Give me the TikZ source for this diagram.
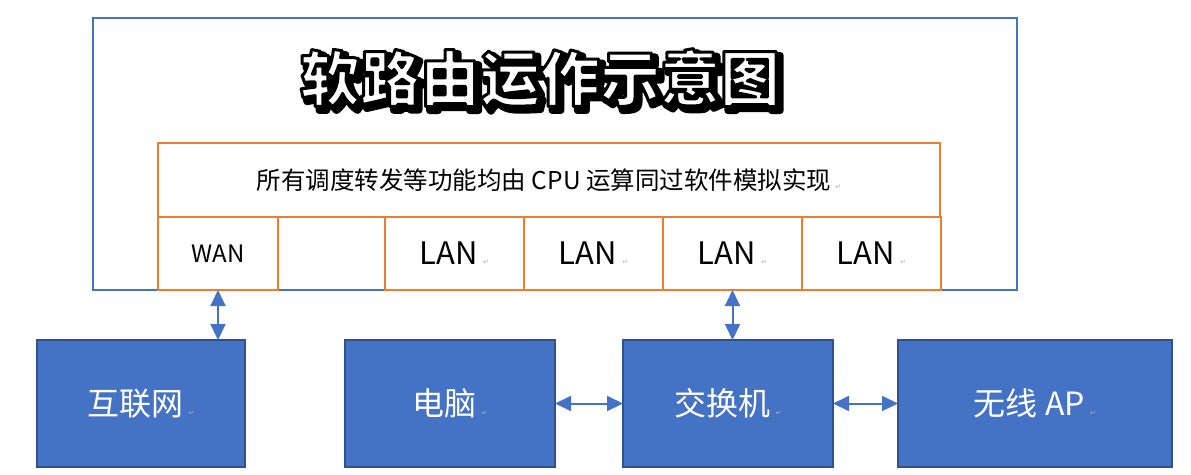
\documentclass[tikz,border=0pt]{standalone}
\usepackage{fontspec}
\setmainfont{Noto Sans CJK SC}
\newfontfamily\markfont{DejaVu Sans}
\usetikzlibrary{positioning,calc,arrows.meta}

\definecolor{frameblue}{HTML}{4472C4}
\definecolor{portorange}{HTML}{ED7D31}
\definecolor{devblue}{HTML}{4472C4}
\definecolor{devedge}{HTML}{2F528F}
\newcommand{\retmark}{\,{\markfont\fontsize{7}{7}\selectfont\color{gray!60}↵}}
% outlined text: fill and stroke the glyphs
\newcommand{\outlined}[2]{\special{pdf:literal direct 2 Tr #1 w 1 j 0 G}#2\special{pdf:literal direct 0 Tr}}

\begin{document}
\begin{tikzpicture}[x=1pt,y=-1pt,
    frame/.style={draw=frameblue, line width=2.5pt, inner sep=0pt, outer sep=0pt},
    cell/.style={draw=portorange, line width=2.5pt, fill=white, inner sep=0pt, outer sep=0pt, minimum height=73pt},
    lan/.style={cell, minimum width=139pt, font=\fontsize{31}{31}\selectfont},
    dev/.style={draw=devedge, line width=2pt, fill=devblue, text=white, inner sep=0pt, outer sep=0pt,
        minimum height=127pt, font=\fontsize{32}{32}\selectfont},
    link/.style={{Triangle[length=16pt,width=15pt]}-{Triangle[length=16pt,width=15pt]}, draw=devblue, line width=2pt},
    titletext/.style={font=\bfseries\fontsize{60}{60}\selectfont}
]
    \useasboundingbox (0,0) rectangle (1191,474);

    % router frame
    \node[frame, minimum width=924pt, minimum height=272pt, anchor=north west] (router) at (93,18) {};

    % title with shadow and outline
    \coordinate (tpos) at (540,78);
    \node[titletext, text=black] (shadow) at ($(tpos)+(4,4)$) {\outlined{7}{软路由运作示意图}};
    \node[titletext, text=white] (title) at (tpos) {\outlined{3}{软路由运作示意图}};

    \node[cell, minimum width=782pt, minimum height=74pt, anchor=north west, font=\fontsize{24.5}{24.5}\selectfont] (desc) at (158,143)
        {所有调度转发等功能均由 CPU 运算同过软件模拟实现\retmark};

    % ports
    \node[cell, minimum width=120pt, anchor=north west, font=\fontsize{24}{24}\selectfont] (wan) at (desc.south west) {WAN};
    \node[lan, anchor=north west] (lana) at (385,217) {LAN\retmark};
    \node[lan, right=0pt of lana] (lanb) {LAN\retmark};
    \node[lan, right=0pt of lanb] (lanc) {LAN\retmark};
    \node[lan, right=0pt of lanc] (land) {LAN\retmark};

    % devices
    \node[dev, minimum width=208pt, anchor=north west] (inet) at (37,340) {互联网\retmark};
    \node[dev, minimum width=210pt, right=100pt of inet] (pc) {电脑\retmark};
    \node[dev, minimum width=210pt, right=68pt of pc] (switch) {交换机\retmark};
    \node[dev, minimum width=274pt, right=65pt of switch] (ap) {无线 AP\retmark};

    \draw[link] (wan.south) -- (wan.south |- inet.north);
    \draw[link] (lanc.south) -- (lanc.south |- switch.north);
    \draw[link] (pc) -- (switch);
    \draw[link] (switch) -- (ap);
\end{tikzpicture}
\end{document}
